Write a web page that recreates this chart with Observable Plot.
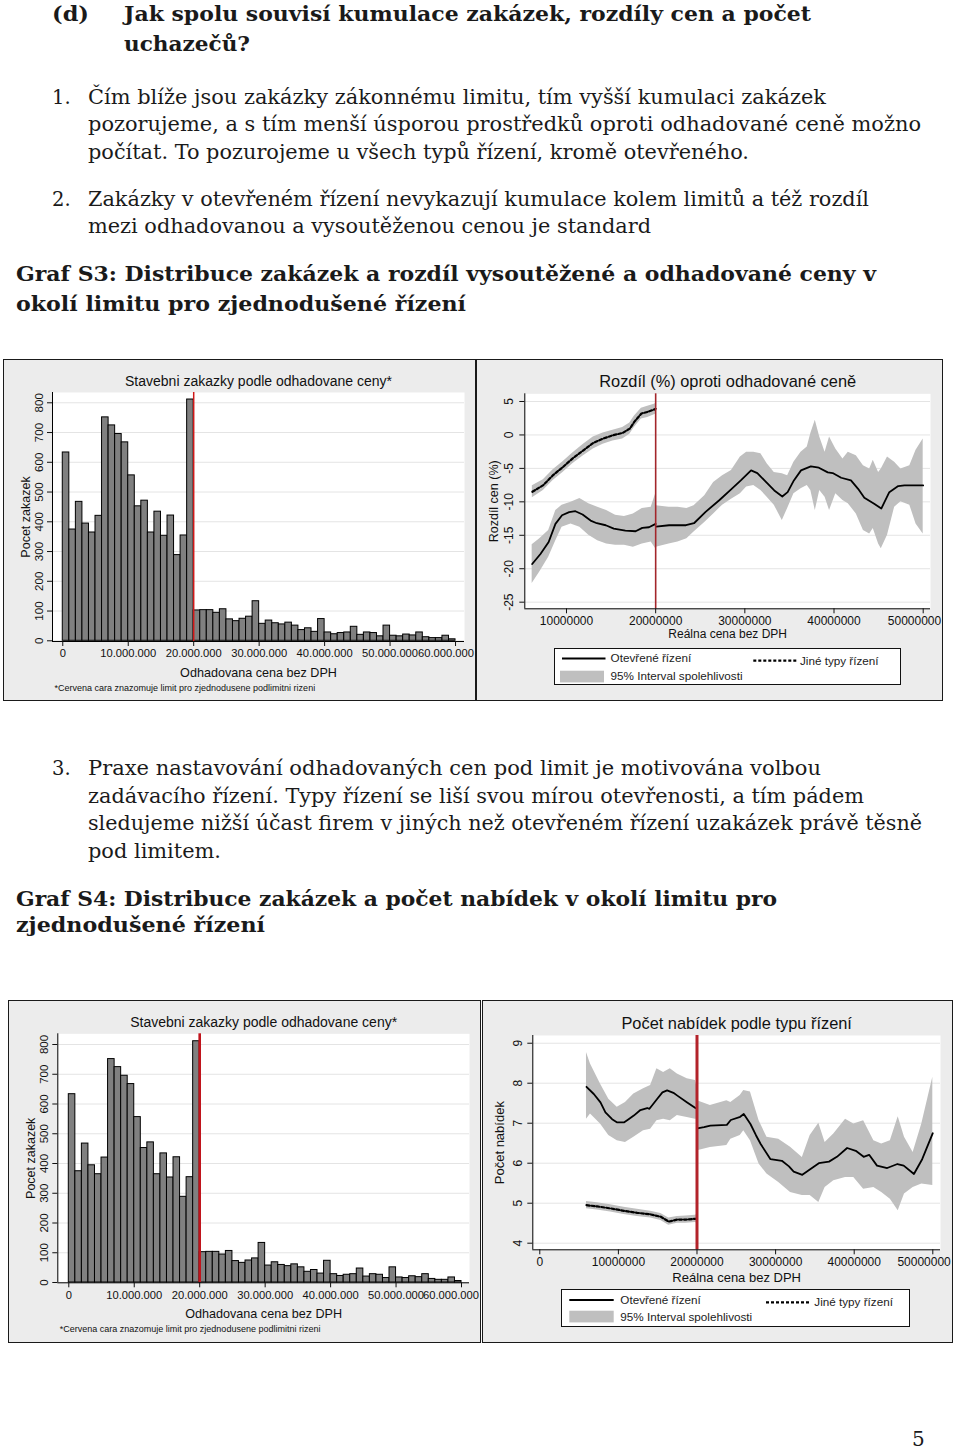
<!DOCTYPE html>
<html><head><meta charset="utf-8">
<script src="https://cdn.jsdelivr.net/npm/d3@7"></script>
<script src="https://cdn.jsdelivr.net/npm/@observablehq/plot@0.6"></script>
<style>
body{margin:0;background:#fff;}
#page{position:relative;width:960px;height:1453px;overflow:hidden;background:#fff;}
.t{position:absolute;white-space:nowrap;font-family:"DejaVu Serif",serif;color:#1a1a1a;line-height:1;transform-origin:0 0;}
.b{font-weight:bold;}
.panel{position:absolute;background:#ececec;overflow:hidden;}
.panel .bd{position:absolute;left:0;top:0;right:0;bottom:0;border:1.5px solid #1a1a1a;box-sizing:border-box;pointer-events:none;}
.panel svg.plot{position:absolute;left:0;top:0;}
.lg{position:absolute;background:#fff;border:1px solid #111;box-sizing:border-box;}
.lg svg{position:absolute;left:0;top:0;font-family:"Liberation Sans",Arial,sans-serif;font-size:11.7px;}
</style></head>
<body><div id="page"></div>
<script>
// ---------------- DATA ----------------
const limitM = 20; // legal limit (millions CZK)

// Histogram: counts per 1M bin starting at 0
const binWidthM = 1;
const histCounts = [633,374,467,394,364,420,751,724,695,667,556,452,471,364,434,353,421,288,354,811,
  102,103,103,94,106,72,66,74,81,133,57,68,59,55,61,51,36,42,30,73,
  28,22,26,28,47,20,28,26,15,51,17,15,21,18,28,12,9,9,17,5];
const histXTicksM = [0,10,20,30,40,50,60];
const histXTickLabels = ["0","10.000.000","20.000.000","30.000.000","40.000.000","50.000.000","60.000.000"];
const histYTicks = [0,100,200,300,400,500,600,700,800];

// S3: difference (%) vs estimated price
const s3OpenX = [6.15,7.08,8.0,8.76,9.5,10.3,11.0,11.8,12.7,13.4,14.4,15.3,16.6,17.75,18.5,19.25,20.0,
  20.05,21.5,23.4,24.3,25.6,27.1,28.4,29.55,30.7,31.4,32.2,33.3,34.2,34.8,35.5,36.3,37.4,38.3,39.3,39.85,40.8,41.9,42.7,43.4,44.5,45.3,46.2,47.2,47.9,50.0];
const s3OpenY = [-19.3,-17.8,-16.0,-13.3,-12.0,-11.55,-11.4,-11.9,-12.8,-13.2,-13.5,-14.0,-14.3,-14.4,-13.9,-13.8,-13.3,
  -13.7,-13.5,-13.5,-13.2,-11.5,-9.8,-8.2,-6.8,-5.3,-5.7,-6.8,-8.3,-9.2,-8.55,-6.8,-5.3,-4.7,-4.9,-5.6,-5.7,-6.4,-6.8,-8.05,-9.4,-10.3,-11.0,-8.55,-7.65,-7.55,-7.55];
const s3BandX = [6.15,7.0,8.0,8.8,9.5,10.5,11.5,12.5,13.5,14.5,15.5,16.5,17.5,18.5,19.5,20.0,
  20.05,21.5,22.5,23.5,24.3,25.5,26.5,27.5,28.5,29.5,30.2,31.0,31.8,32.5,33.3,34.2,34.8,35.5,36.3,
  37.0,37.4,37.9,38.4,39.0,39.5,40.2,41.0,41.6,42.5,43.3,44.0,44.4,45.0,45.3,46.0,46.8,47.5,48.5,49.2,50.0];
const s3BandHi = [-16.4,-15.5,-14.3,-11.3,-10.5,-10.05,-9.5,-10.3,-10.8,-11.3,-12.0,-12.2,-11.8,-11.0,-10.8,-8.8,
  -10.6,-10.8,-10.8,-11.0,-10.6,-9.1,-7.1,-6.1,-5.3,-3.3,-2.6,-2.6,-2.8,-4.3,-5.6,-5.8,-6.1,-4.1,-2.6,
  -1.8,0.2,2.2,-0.3,-2.6,-0.3,-2.1,-3.6,-2.6,-3.1,-4.6,-5.1,-3.8,-5.6,-5.1,-3.3,-4.1,-5.1,-4.6,-2.3,-0.6];
const s3BandLo = [-22.2,-20.5,-18.3,-15.8,-13.8,-13.3,-13.8,-15.0,-15.8,-16.3,-16.5,-16.5,-16.8,-16.3,-16.0,-17.0,
  -16.8,-16.3,-16.0,-15.5,-14.5,-13.1,-11.8,-10.5,-9.6,-8.8,-7.8,-7.55,-8.3,-9.3,-10.5,-12.8,-11.0,-8.8,-8.05,
  -7.55,-8.3,-11.3,-8.3,-9.3,-11.3,-8.8,-9.8,-10.3,-11.8,-14.3,-14.8,-14.0,-16.3,-17.0,-15.0,-10.8,-10.0,-10.5,-13.3,-14.8];
const s3OtherX = [6.17,7.4,8.5,9.6,10.7,11.9,13.0,14.1,15.2,16.3,17.1,17.6,18.4,19.1,19.85,20.0];
const s3OtherY = [-8.5,-7.5,-6.0,-4.8,-3.5,-2.3,-1.2,-0.55,-0.05,0.3,0.95,1.95,3.2,3.45,3.8,3.9];
const s3OtherHi = [-7.6,-6.7,-5.2,-4.0,-2.7,-1.4,-0.3,0.3,0.7,1.1,1.8,2.8,4.0,4.3,4.6,4.7];
const s3OtherLo = [-9.4,-8.3,-6.8,-5.6,-4.3,-3.1,-2.1,-1.4,-0.9,-0.6,0.1,1.1,2.4,2.6,3.0,3.1];
const s3XTicksM = [10,20,30,40,50];
const s3XTickLabels = ["10000000","20000000","30000000","40000000","50000000"];
const s3YTicks = [5,0,-5,-10,-15,-20,-25];

// S4: number of bids
const s4OpenX = [5.94,6.87,7.72,8.35,9.2,9.85,10.7,11.3,11.96,12.8,13.66,13.95,14.9,15.6,16.2,17.0,17.5,18.75,19.8,20.0,
  20.05,20.9,21.7,23.8,24.3,25.5,25.95,26.8,27.5,28.1,29.35,30.8,31.7,32.3,33.4,34.4,35.5,36.8,37.8,39.1,40.2,41.2,41.9,42.9,44.2,45.5,46.3,47.6,48.65,50.0];
const s4OpenY = [7.91,7.73,7.52,7.27,7.1,7.02,7.02,7.1,7.19,7.33,7.38,7.36,7.6,7.77,7.82,7.76,7.69,7.52,7.38,7.36,
  6.87,6.9,6.94,6.96,7.08,7.16,7.23,6.98,6.7,6.48,6.1,6.06,5.92,5.79,5.71,5.85,6.0,6.04,6.16,6.38,6.31,6.16,6.21,5.94,5.88,5.98,5.94,5.73,6.1,6.75];
const s4BandX = [5.94,6.45,7.72,8.78,9.85,10.9,11.96,13.2,14.1,14.9,15.75,16.6,17.5,18.75,19.8,20.0,
  20.05,21.7,23.8,24.3,25.5,25.95,26.8,27.9,28.9,30.4,31.9,33.4,34.4,35.5,36.3,37.4,38.9,39.95,41.2,42.5,43.5,44.6,45.6,46.4,47.5,48.6,50.0];
const s4BandHi = [8.77,8.48,7.98,7.6,7.4,7.52,7.73,7.86,7.94,8.36,8.27,8.36,8.23,8.11,8.07,7.9,
  7.56,7.44,7.56,7.52,7.69,7.82,7.78,7.06,6.65,6.6,6.4,6.14,6.69,7.0,6.52,6.73,7.1,6.98,7.06,6.56,6.48,6.56,7.16,6.65,6.27,6.98,8.15];
const s4BandLo = [7.1,7.23,6.98,6.69,6.56,6.52,6.65,6.81,6.85,7.06,7.1,7.06,7.19,7.14,7.1,7.1,
  6.31,6.39,6.44,6.6,6.69,6.81,6.56,5.98,5.73,5.52,5.27,5.19,5.19,5.02,5.39,5.56,5.64,5.64,5.35,5.39,5.27,5.1,4.81,5.23,5.39,5.48,5.44];
const s4OtherX = [5.94,7.3,9.0,10.7,12.4,14.1,15.4,16.4,17.5,18.6,19.8,20.0];
const s4OtherY = [4.95,4.92,4.87,4.81,4.76,4.72,4.66,4.54,4.59,4.59,4.61,4.61];
const s4OtherHi = [5.04,5.01,4.96,4.9,4.85,4.8,4.74,4.63,4.67,4.68,4.7,4.72];
const s4OtherLo = [4.86,4.83,4.78,4.72,4.67,4.63,4.57,4.45,4.5,4.5,4.52,4.5];
const s4XTicksM = [0,10,20,30,40,50];
const s4XTickLabels = ["0","10000000","20000000","30000000","40000000","50000000"];
const s4YTicks = [4,5,6,7,8,9];

// ---------------- PAGE TEXT ----------------
const page = document.getElementById("page");
const textLines = [
  ["(d)", 52, 21.7, 20.5, true, 37],
  ["Jak spolu souvisí kumulace zakázek, rozdíly cen a počet", 124, 21.7, 20.5, true, 687],
  ["uchazečů?", 124, 51.7, 20.5, true, 126],
  ["1.", 52, 104, 19.5, false, 0],
  ["Čím blíže jsou zakázky zákonnému limitu, tím vyšší kumulaci zakázek", 88, 104, 19.5, false, 738],
  ["pozorujeme, a s tím menší úsporou prostředků oproti odhadované ceně možno", 88, 131.7, 19.5, false, 833],
  ["počítat. To pozurojeme u všech typů řízení, kromě otevřeného.", 88, 159.3, 19.5, false, 661],
  ["2.", 52, 206.7, 19.5, false, 0],
  ["Zakázky v otevřeném řízení nevykazují kumulace kolem limitů a též rozdíl", 88, 206.7, 19.5, false, 781],
  ["mezi odhadovanou a vysoutěženou cenou je standard", 88, 233.3, 19.5, false, 563],
  ["Graf S3: Distribuce zakázek a rozdíl vysoutěžené a odhadované ceny v", 16, 281.7, 20.5, true, 860],
  ["okolí limitu pro zjednodušené řízení", 16, 311.7, 20.5, true, 450],
  ["3.", 52, 775, 19.5, false, 0],
  ["Praxe nastavování odhadovaných cen pod limit je motivována volbou", 88, 775, 19.5, false, 733],
  ["zadávacího řízení. Typy řízení se liší svou mírou otevřenosti, a tím pádem", 88, 803.3, 19.5, false, 776],
  ["sledujeme nižší účast firem v jiných než otevřeném řízení uzakázek právě těsně", 88, 830, 19.5, false, 834],
  ["pod limitem.", 88, 858.3, 19.5, false, 133],
  ["Graf S4: Distribuce zakázek a počet nabídek v okolí limitu pro", 16, 906.7, 20.5, true, 761],
  ["zjednodušené řízení", 16, 932.5, 20.5, true, 249],
  ["5", 912, 1446, 20, false, 0]
];
for (const [str, x, base, size, bold, tw] of textLines) {
  const el = document.createElement("div");
  el.className = "t" + (bold ? " b" : "");
  el.textContent = str;
  el.style.left = x + "px";
  el.style.top = (base - 0.846 * size) + "px";
  el.style.fontSize = size + "px";
  page.appendChild(el);
  if (tw) {
    const w = el.getBoundingClientRect().width;
    el.style.transform = `scaleX(${tw / w})`;
  }
}

// ---------------- CHART HELPERS ----------------
const FONT = "Liberation Sans, Arial, Helvetica, sans-serif";
function makePanel(left, top, w, h) {
  const d = document.createElement("div");
  d.className = "panel";
  Object.assign(d.style, {left: left + "px", top: top + "px", width: w + "px", height: h + "px"});
  page.appendChild(d);
  return d;
}
function finishPanel(panel, plot) {
  plot.classList.add("plot");
  panel.appendChild(plot);
  const bd = document.createElement("div");
  bd.className = "bd";
  panel.appendChild(bd);
}
const seg = (xm) => (xm <= limitM ? "pod" : "nad");

// x-axis: all tick marks; labels centered except the last one, which is kept inside the panel
function xAxisMarks(ticksM, labels, fontSize, lastDx) {
  const ticks = ticksM.map(t => t * 1e6);
  const last = ticks[ticks.length - 1];
  const labelMap = new Map(ticks.map((t, i) => [t, labels[i]]));
  return [
    Plot.axisX({ticks, tickFormat: d => (d === last ? "" : labelMap.get(d)), tickSize: 5, tickPadding: 3, fontSize, label: null}),
    Plot.text([last], {x: d => d, text: d => labelMap.get(d), frameAnchor: "bottom", dy: 8, dx: lastDx, textAnchor: "end", lineAnchor: "top", fontSize})
  ];
}

function histPanel(left, top, w, h, m, xDomM, yDom, redW, redC, lastDx) {
  const panel = makePanel(left, top, w, h);
  const rows = histCounts.map((c, i) => ({x1: i * binWidthM * 1e6, x2: (i + 1) * binWidthM * 1e6, y: c}));
  const xDom = xDomM.map(v => v * 1e6);
  const plot = Plot.plot({
    width: w, height: h,
    marginLeft: m[0], marginRight: m[1], marginTop: m[2], marginBottom: m[3],
    style: {background: "transparent", fontFamily: FONT, color: "#111", overflow: "visible"},
    x: {domain: xDom}, y: {domain: yDom},
    marks: [
      Plot.frame({fill: "#fff", stroke: "none"}),
      Plot.ruleY(histYTicks, {stroke: "#e4e4e4", strokeWidth: 1}),
      Plot.rectY(rows, {x1: "x1", x2: "x2", y: "y", fill: "#808080", stroke: "#000", strokeWidth: 1}),
      Plot.ruleX([limitM * 1e6], {stroke: redC, strokeWidth: redW}),
      Plot.ruleX([xDom[0]], {stroke: "#000", strokeWidth: 1}),
      Plot.ruleY([yDom[0]], {stroke: "#000", strokeWidth: 1}),
      ...xAxisMarks(histXTicksM, histXTickLabels, 11.2, lastDx),
      Plot.axisY({ticks: histYTicks, tickSize: 5, tickFormat: () => "", label: null}),
      Plot.text(histYTicks, {y: d => d, text: d => String(d), frameAnchor: "left", dx: -10, rotate: -90, textAnchor: "middle", lineAnchor: "bottom", fontSize: 11.5}),
      Plot.text(["Stavebni zakazky podle odhadovane ceny*"], {text: d => d, frameAnchor: "top", dy: -7, textAnchor: "middle", lineAnchor: "bottom", fontSize: 14}),
      Plot.text(["Odhadovana cena bez DPH"], {text: d => d, frameAnchor: "bottom", dy: 35, textAnchor: "middle", lineAnchor: "bottom", fontSize: 12.6}),
      Plot.text(["Pocet zakazek"], {text: d => d, frameAnchor: "left", dx: -23, rotate: -90, textAnchor: "middle", lineAnchor: "bottom", fontSize: 12.5}),
      Plot.text(["*Cervena cara znazomuje limit pro zjednodusene podlimitni rizeni"], {text: d => d, frameAnchor: "bottom-left", dx: 2, dy: 49, textAnchor: "start", lineAnchor: "bottom", fontSize: 9})
    ]
  });
  finishPanel(panel, plot);
}

function linePanel(cfg) {
  const panel = makePanel(cfg.left, cfg.top, cfg.w, cfg.h);
  const openRows = cfg.openX.map((x, i) => ({x: x * 1e6, y: cfg.openY[i], seg: seg(x)}));
  const openBand = cfg.bandX.map((x, i) => ({x: x * 1e6, lo: cfg.bandLo[i], hi: cfg.bandHi[i], seg: seg(x)}));
  const otherRows = cfg.otherX.map((x, i) => ({x: x * 1e6, y: cfg.otherY[i], lo: cfg.otherLo[i], hi: cfg.otherHi[i]}));
  const xDom = cfg.xDomM.map(v => v * 1e6);
  const m = cfg.m;
  const plot = Plot.plot({
    width: cfg.w, height: cfg.h,
    marginLeft: m[0], marginRight: m[1], marginTop: m[2], marginBottom: m[3],
    style: {background: "transparent", fontFamily: FONT, color: "#111", overflow: "visible"},
    x: {domain: xDom}, y: {domain: cfg.yDom},
    marks: [
      Plot.frame({fill: "#fff", stroke: "none"}),
      Plot.ruleY(cfg.yTicks, {stroke: "#e4e4e4", strokeWidth: 1}),
      Plot.areaY(openBand, {x: "x", y1: "lo", y2: "hi", z: "seg", fill: "#bfbfbf"}),
      Plot.areaY(otherRows, {x: "x", y1: "lo", y2: "hi", fill: "#bfbfbf"}),
      Plot.line(openRows, {x: "x", y: "y", z: "seg", stroke: "#000", strokeWidth: 1.8}),
      Plot.line(otherRows, {x: "x", y: "y", stroke: "#000", strokeWidth: 2.2, strokeDasharray: "3,2"}),
      Plot.ruleX([limitM * 1e6], {stroke: cfg.redC, strokeWidth: cfg.redW}),
      Plot.ruleX([xDom[0]], {stroke: "#000", strokeWidth: 1}),
      Plot.ruleY([cfg.yDom[0]], {stroke: "#000", strokeWidth: 1}),
      ...xAxisMarks(cfg.xTicksM, cfg.xTickLabels, 12, 18),
      Plot.axisY({ticks: cfg.yTicks, tickSize: 5, tickFormat: () => "", label: null}),
      Plot.text(cfg.yTicks, {y: d => d, text: d => String(d), frameAnchor: "left", dx: cfg.yLabDx, rotate: -90, textAnchor: "middle", lineAnchor: "bottom", fontSize: 12}),
      Plot.text([cfg.title], {text: d => d, frameAnchor: "top", dy: -6.7, textAnchor: "middle", lineAnchor: "bottom", fontSize: 16.4}),
      Plot.text([cfg.xLabel], {text: d => d, frameAnchor: "bottom", dy: cfg.xLabDy, textAnchor: "middle", lineAnchor: "bottom", fontSize: cfg.xLabSize}),
      Plot.text([cfg.yLabel], {text: d => d, frameAnchor: "left", dx: cfg.yTitleDx, rotate: -90, textAnchor: "middle", lineAnchor: "bottom", fontSize: cfg.yTitleSize})
    ]
  });
  finishPanel(panel, plot);
  // legend
  const L = cfg.legend;
  const lg = document.createElement("div");
  lg.className = "lg";
  Object.assign(lg.style, {left: L.x + "px", top: L.y + "px", width: L.w + "px", height: L.h + "px"});
  lg.innerHTML = `<svg width="${L.w}" height="${L.h}">
    <line x1="${L.solid[0]}" x2="${L.solid[1]}" y1="${L.solid[2]}" y2="${L.solid[2]}" stroke="#000" stroke-width="1.8"/>
    <text x="${L.t1[0]}" y="${L.t1[1]}" fill="#222">Otevřené řízení</text>
    <line x1="${L.dash[0]}" x2="${L.dash[1]}" y1="${L.dash[2]}" y2="${L.dash[2]}" stroke="#000" stroke-width="2.2" stroke-dasharray="3,2"/>
    <text x="${L.t2[0]}" y="${L.t2[1]}" fill="#222">Jiné typy řízení</text>
    <rect x="${L.sw[0]}" y="${L.sw[1]}" width="${L.sw[2]}" height="${L.sw[3]}" fill="#bfbfbf"/>
    <text x="${L.t3[0]}" y="${L.t3[1]}" fill="#222">95% Interval spolehlivosti</text>
  </svg>`;
  panel.insertBefore(lg, panel.lastChild);
}

// ---------------- DRAW ----------------
histPanel(3, 359, 473, 342, [49, 12, 33, 60], [-1.57, 61.37], [-2.4, 834.6], 1.5, "#d01818", 18.5);
linePanel({
  left: 476, top: 359, w: 467, h: 342, m: [48.3, 13, 34.3, 92.7],
  xDomM: [5.324, 50.82], yDom: [-25.99, 6.15],
  openX: s3OpenX, openY: s3OpenY, bandX: s3BandX, bandLo: s3BandLo, bandHi: s3BandHi,
  otherX: s3OtherX, otherY: s3OtherY, otherLo: s3OtherLo, otherHi: s3OtherHi,
  xTicksM: s3XTicksM, xTickLabels: s3XTickLabels, yTicks: s3YTicks,
  title: "Rozdíl (%) oproti odhadované ceně", xLabel: "Reálna cena bez DPH", yLabel: "Rozdíl cen (%)",
  xLabDy: 28.7, xLabSize: 12, yLabDx: -12, yTitleDx: -27, yTitleSize: 12.5,
  redC: "#a3262b", redW: 1.6,
  legend: {x: 77.7, y: 289.3, w: 347, h: 37, solid: [7, 50.5, 9.5], t1: [55.6, 12.8], dash: [198.3, 242.3, 11.7], t2: [245, 15.5], sw: [5, 21.7, 44, 11.7], t3: [55.6, 31]}
});
histPanel(8, 1000, 473, 343, [49.3, 12, 33.3, 60.7], [-1.68, 61.22], [-1, 836], 2.6, "#c0141c", 17.5);
linePanel({
  left: 482, top: 1000, w: 471, h: 343, m: [50.3, 13, 35, 93.7],
  xDomM: [-0.89, 50.98], yDom: [3.835, 9.193],
  openX: s4OpenX, openY: s4OpenY, bandX: s4BandX, bandLo: s4BandLo, bandHi: s4BandHi,
  otherX: s4OtherX, otherY: s4OtherY, otherLo: s4OtherLo, otherHi: s4OtherHi,
  xTicksM: s4XTicksM, xTickLabels: s4XTickLabels, yTicks: s4YTicks,
  title: "Počet nabídek podle typu řízení", xLabel: "Reálna cena bez DPH", yLabel: "Počet nabídek",
  xLabDy: 32.4, xLabSize: 13, yLabDx: -10.6, yTitleDx: -29, yTitleSize: 13,
  redC: "#b3232a", redW: 3,
  legend: {x: 79, y: 289.3, w: 349, h: 37.4, solid: [7.3, 51.7, 10], t1: [58.3, 14], dash: [204, 249, 12.4], t2: [252.3, 16], sw: [7.3, 20.7, 44.4, 11.7], t3: [58.3, 31]}
});
</script>
</body></html>
